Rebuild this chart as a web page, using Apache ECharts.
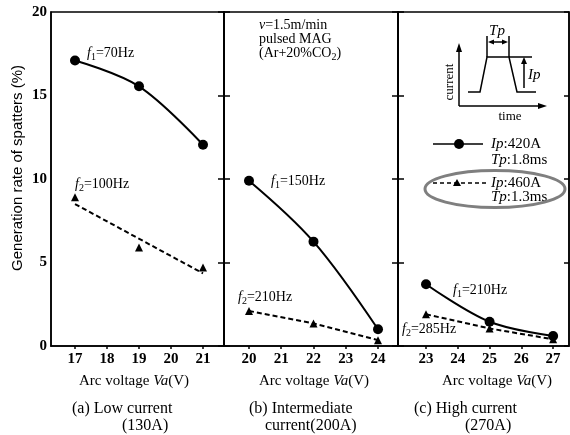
<!DOCTYPE html>
<html><head><meta charset="utf-8">
<script src="https://cdn.jsdelivr.net/npm/echarts@6/dist/echarts.min.js"></script>
<style>html,body{margin:0;padding:0;background:#fff}#c{width:570px;height:435px}</style>
</head><body><div id="c"></div>
<script>
// ---- data ----
const yTicks = [0, 5, 10, 15, 20];
const xTicksA = [17, 18, 19, 20, 21];
const xTicksB = [20, 21, 22, 23, 24];
const xTicksC = [23, 24, 25, 26, 27];
const f1A = [[17, 17.1], [19, 15.55], [21, 12.05]];
const f2A = [[17, 8.9], [19, 5.9], [21, 4.7]];
const f2FitA = [[17, 8.5], [21, 4.35]];
const f1B = [[20, 9.9], [22, 6.25], [24, 1.0]];
const f2B = [[20, 2.1], [22, 1.35], [24, 0.35]];
const f1C = [[23, 3.7], [25, 1.45], [27, 0.6]];
const f2C = [[23, 1.9], [25, 1.05], [27, 0.4]];

const SERIF = '"Liberation Serif", "DejaVu Serif", serif';
const SANS = '"Liberation Sans", Arial, sans-serif';

const chart = echarts.init(document.getElementById('c'), null, {renderer: 'canvas'});

const grids = [
  {left: 51, top: 12, width: 173, height: 334},
  {left: 224, top: 12, width: 174, height: 334},
  {left: 398, top: 12, width: 171, height: 334}
].map(g => Object.assign({show: true, borderColor: '#000', borderWidth: 1.5, backgroundColor: 'transparent'}, g));

const xRanges = [[16.25, 21.656], [19.225, 24.62], [22.118, 27.5]];
const xTickSets = [xTicksA, xTicksB, xTicksC];

const xAxes = xRanges.map((r, i) => ({
  type: 'value', gridIndex: i, min: r[0], max: r[1],
  axisLine: {show: true, lineStyle: {color: '#000', width: 1.5}},
  splitLine: {show: false},
  axisTick: {show: true, inside: false, length: 3, customValues: xTickSets[i], lineStyle: {color: '#000', width: 1.5}},
  axisLabel: {show: true, customValues: xTickSets[i], color: '#000', fontFamily: SERIF, fontWeight: 'bold', fontSize: 15, margin: 6}
}));

function yAx(gi, pos, opts) {
  return Object.assign({
    type: 'value', gridIndex: gi, position: pos, min: 0, max: 20, interval: 5,
    axisLine: {show: true, lineStyle: {color: '#000', width: 1.5}},
    splitLine: {show: false},
    axisTick: {show: true, inside: true, length: 6, lineStyle: {color: '#000', width: 1.5}},
    axisLabel: {show: false}
  }, opts || {});
}
const yAxes = [
  yAx(0, 'left', {axisTick: {show: false}, axisLabel: {show: true, color: '#000', fontFamily: SERIF, fontWeight: 'bold', fontSize: 15, margin: 4, customValues: yTicks}}),
  yAx(0, 'right'),
  yAx(1, 'left'),
  yAx(1, 'right'),
  yAx(2, 'left'),
  yAx(2, 'right', {axisTick: {show: true, inside: true, length: 5, lineStyle: {color: '#000', width: 1.5}}})
];

function f1Series(data, gi) {
  return {type: 'line', xAxisIndex: gi, yAxisIndex: gi * 2, data: data, smooth: 0.35,
    symbol: 'circle', symbolSize: 10, itemStyle: {color: '#000'},
    lineStyle: {color: '#000', width: 2}, z: 5, silent: true};
}
function f2Series(data, gi, withLine) {
  return {type: 'line', xAxisIndex: gi, yAxisIndex: gi * 2, data: data,
    symbol: 'triangle', symbolSize: 8, itemStyle: {color: '#000'},
    lineStyle: withLine ? {color: '#000', width: 2, type: [5, 3]} : {width: 0, opacity: 0}, z: 4, silent: true};
}

const series = [
  f1Series(f1A, 0),
  f2Series(f2A, 0, false),
  {type: 'line', xAxisIndex: 0, yAxisIndex: 0, data: f2FitA, symbol: 'none',
    lineStyle: {color: '#000', width: 2, type: [5, 3]}, silent: true},
  f1Series(f1B, 1),
  f2Series(f2B, 1, true),
  f1Series(f1C, 2),
  f2Series(f2C, 2, true)
];

const richBase = {
  i: {fontStyle: 'italic', fontFamily: SERIF, fontSize: 14, fill: '#000', lineHeight: 18},
  n: {fontFamily: SERIF, fontSize: 14, fill: '#000', lineHeight: 18},
  s: {fontFamily: SERIF, fontSize: 10, fill: '#000', verticalAlign: 'bottom', lineHeight: 10},
  I: {fontStyle: 'italic', fontFamily: SERIF, fontSize: 15, fill: '#000', lineHeight: 18},
  N: {fontFamily: SERIF, fontSize: 15, fill: '#000', lineHeight: 18}
};

function txt(x, y, text, opt) {
  opt = opt || {};
  return {type: 'text', x: x, y: y, rotation: opt.rotation || 0, z: 20, silent: true,
    style: {text: text, rich: richBase, fill: '#000',
      font: opt.font || ('14px ' + SERIF),
      align: opt.align || 'left', verticalAlign: opt.va || 'middle',
      textAlign: opt.align || 'left', textVerticalAlign: opt.va || 'middle',
      backgroundColor: opt.bg}};
}
function ln(x1, y1, x2, y2, w, dash) {
  return {type: 'line', z: 20, silent: true, shape: {x1, y1, x2, y2},
    style: {stroke: '#000', lineWidth: w || 1.5, lineDash: dash || null}};
}
function poly(points, fill) {
  return {type: fill ? 'polygon' : 'polyline', z: 20, silent: true, shape: {points},
    style: fill ? {fill: '#000'} : {stroke: '#000', lineWidth: 1.5, fill: null}};
}

const graphic = [
  // y axis name
  txt(18, 168, 'Generation rate of spatters (%)', {font: '15px ' + SANS, align: 'center', rotation: Math.PI / 2}),
  // series labels
  txt(87, 53, '{i|f}{s|1}{n|=70Hz}'),
  txt(75, 184, '{i|f}{s|2}{n|=100Hz}'),
  txt(271, 181, '{i|f}{s|1}{n|=150Hz}'),
  txt(238, 297, '{i|f}{s|2}{n|=210Hz}'),
  txt(453, 290, '{i|f}{s|1}{n|=210Hz}'),
  txt(402, 329, '{i|f}{s|2}{n|=285Hz}'),
  // conditions
  txt(259, 25, '{i|v}{n|=1.5m/min}'),
  txt(259, 39, '{n|pulsed MAG}'),
  txt(259, 53, '{n|(Ar+20%CO}{s|2}{n|)}'),
  // axis names
  txt(134, 381, '{N|Arc voltage }{I|Va}{N|(V)}', {align: 'center'}),
  txt(314, 381, '{N|Arc voltage }{I|Va}{N|(V)}', {align: 'center'}),
  txt(497, 381, '{N|Arc voltage }{I|Va}{N|(V)}', {align: 'center'}),
  // captions
  txt(72, 409, '(a) Low current', {font: '16px ' + SERIF}),
  txt(122, 426, '(130A)', {font: '16px ' + SERIF}),
  txt(249, 409, '(b) Intermediate', {font: '16px ' + SERIF}),
  txt(265, 426, 'current(200A)', {font: '16px ' + SERIF}),
  txt(414, 409, '(c) High current', {font: '16px ' + SERIF}),
  txt(465, 426, '(270A)', {font: '16px ' + SERIF}),
  // inset pulse diagram
  ln(459, 106, 459, 50),
  poly([[459, 43], [456, 52], [462, 52]], true),
  ln(459, 106, 540, 106),
  poly([[547, 106], [538, 103], [538, 109]], true),
  poly([[468, 92], [480, 92], [487, 57], [509, 57], [517, 92], [536, 92]]),
  ln(509, 57, 532, 57),
  ln(524, 88, 524, 62),
  poly([[524, 57], [521, 64], [527, 64]], true),
  ln(487, 36, 487, 57),
  ln(509, 36, 509, 57),
  ln(492, 42, 504, 42),
  poly([[488, 42], [494, 39.5], [494, 44.5]], true),
  poly([[508, 42], [502, 39.5], [502, 44.5]], true),
  txt(497, 31, '{I|Tp}', {align: 'center'}),
  txt(528, 75, '{I|Ip}'),
  txt(450, 82, 'current', {font: '13px ' + SERIF, align: 'center', rotation: Math.PI / 2}),
  txt(510, 117, 'time', {font: '13px ' + SERIF, align: 'center'}),
  // legend
  ln(433, 144, 483, 144, 1.5),
  {type: 'circle', z: 20, silent: true, shape: {cx: 459, cy: 144, r: 5}, style: {fill: '#000'}},
  txt(491, 144, '{I|Ip}{N|:420A}'),
  txt(491, 160, '{I|Tp}{N|:1.8ms}'),
  ln(433, 183, 488, 183, 1.5, [4, 3]),
  poly([[457, 179], [453, 186], [461, 186]], true),
  txt(491, 183, '{I|Ip}{N|:460A}'),
  txt(491, 197, '{I|Tp}{N|:1.3ms}'),
  {type: 'ellipse', z: 21, silent: true, shape: {cx: 495, cy: 189, rx: 70, ry: 18.5},
    style: {fill: null, stroke: '#7f7f7f', lineWidth: 3}}
];

chart.setOption({
  animation: false,
  backgroundColor: '#fff',
  grid: grids,
  xAxis: xAxes,
  yAxis: yAxes,
  series: series,
  graphic: graphic
});
</script>
</body></html>
